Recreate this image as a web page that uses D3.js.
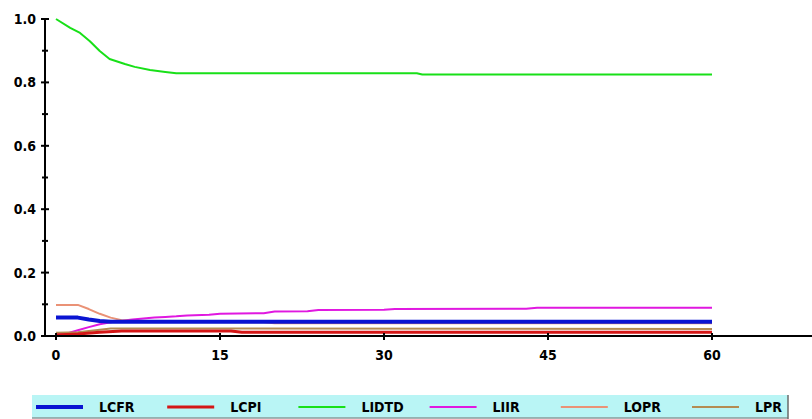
<!DOCTYPE html>
<html>
<head>
<meta charset="utf-8">
<script src="https://cdn.jsdelivr.net/npm/d3@7/dist/d3.min.js"></script>
<style>
  html, body { margin: 0; padding: 0; background: #fff; }
  svg { display: block; }
  text { font-family: "Liberation Sans Narrow", "DejaVu Sans Condensed", "Liberation Sans", Arial, sans-serif; font-weight: bold; }
</style>
</head>
<body>
<svg id="chart" width="812" height="419"></svg>
<script>
// Series: [month, share]
const lcfr  = [[0,0.058],[2,0.058],[3,0.052],[4,0.047],[5,0.045],[60,0.045]];
const lcpi  = [[0,0.003],[2,0.006],[4,0.012],[6,0.016],[16,0.016],[17,0.012],[60,0.012]];
const lidtd = [[0,1.0],[1.3,0.972],[2.2,0.956],[3.1,0.93],[4,0.899],[4.9,0.874],[6.3,0.858],
               [7.2,0.849],[8.6,0.839],[10,0.833],[11,0.829],[33,0.829],[33.5,0.825],[60,0.825]];
const liir  = [[0,0.005],[1,0.008],[2,0.018],[3,0.028],[4,0.037],[5,0.043],[6,0.048],[7,0.052],
               [8,0.055],[9,0.058],[10,0.06],[11,0.062],[12,0.065],[14,0.067],[15,0.07],[19,0.072],
               [20,0.077],[23,0.078],[24,0.082],[30,0.083],[31,0.085],[43,0.086],[44,0.089],[60,0.089]];
const lopr  = [[0,0.098],[2,0.098],[3,0.085],[4,0.07],[5,0.058],[6,0.05],[8,0.045],[19,0.043],[20,0.04],[60,0.04]];
const lpr   = [[0,0.01],[2,0.012],[4,0.02],[5,0.024],[60,0.022]];

const seriesNames  = ["LCFR", "LCPI", "LIDTD", "LIIR", "LOPR", "LPR"];
const seriesData   = [lcfr, lcpi, lidtd, liir, lopr, lpr];
const seriesColors = ["#0a14d2", "#d41616", "#18e018", "#e018e0", "#ea9276", "#b48c52"];
const seriesWidths = [4, 3, 2, 2, 2, 2];
const drawOrder    = [2, 3, 5, 1, 4, 0];

const xTicks = [0, 15, 30, 45, 60];
const yMajor = [0, 0.2, 0.4, 0.6, 0.8, 1.0];
const yMinor = [0.1, 0.3, 0.5, 0.7, 0.9];

const svg = d3.select("#chart");
const x = d3.scaleLinear().domain([0, 60]).range([56, 712]);
const y = d3.scaleLinear().domain([0, 1]).range([336, 19]);
const axisX0 = 45;

const line = d3.line().x(d => x(d[0])).y(d => y(d[1]));

// lines
drawOrder.forEach(i => {
  svg.append("path")
    .datum(seriesData[i])
    .attr("fill", "none")
    .attr("stroke", seriesColors[i])
    .attr("stroke-width", seriesWidths[i])
    .attr("stroke-linejoin", "round")
    .attr("d", line);
});

// y axis
const ya = svg.append("g");
ya.append("line").attr("x1", axisX0).attr("x2", axisX0).attr("y1", y(1)).attr("y2", y(0))
  .attr("stroke", "#000").attr("stroke-width", 2);
yMajor.forEach(v => {
  ya.append("line").attr("x1", axisX0 - 4).attr("x2", axisX0 + 4).attr("y1", y(v)).attr("y2", y(v))
    .attr("stroke", "#000").attr("stroke-width", 2);
  ya.append("text").attr("x", 36).attr("y", y(v)).attr("dy", "0.36em")
    .attr("text-anchor", "end").attr("font-size", 14).text(d3.format(".1f")(v));
});
yMinor.forEach(v => {
  ya.append("line").attr("x1", axisX0 - 3).attr("x2", axisX0 + 3).attr("y1", y(v)).attr("y2", y(v))
    .attr("stroke", "#000").attr("stroke-width", 2);
});

// x axis
const xa = svg.append("g");
xa.append("line").attr("x1", axisX0).attr("x2", 812).attr("y1", y(0)).attr("y2", y(0))
  .attr("stroke", "#000").attr("stroke-width", 2);
xTicks.forEach(t => {
  xa.append("line").attr("x1", x(t)).attr("x2", x(t)).attr("y1", y(0) - 3).attr("y2", y(0) + 4)
    .attr("stroke", "#000").attr("stroke-width", 2);
  xa.append("text").attr("x", x(t)).attr("y", 360).attr("text-anchor", "middle")
    .attr("font-size", 14).text(t);
});

// legend
const lg = svg.append("g");
lg.append("rect").attr("x", 32).attr("y", 395).attr("width", 756).attr("height", 23)
  .attr("fill", "#b9f5f5");
lg.append("line").attr("x1", 32).attr("x2", 788).attr("y1", 418).attr("y2", 418)
  .attr("stroke", "#8a9a9a").attr("stroke-width", 1.5);
lg.append("line").attr("x1", 788).attr("x2", 788).attr("y1", 395).attr("y2", 419)
  .attr("stroke", "#6a6a6a").attr("stroke-width", 1.5);
seriesNames.forEach((name, i) => {
  const x0 = 36 + i * 131.2;
  lg.append("line").attr("x1", x0).attr("x2", x0 + 47).attr("y1", 407).attr("y2", 407)
    .attr("stroke", seriesColors[i]).attr("stroke-width", seriesWidths[i]);
  lg.append("text").attr("x", x0 + 63).attr("y", 407).attr("dy", "0.36em")
    .attr("font-size", 14).text(name);
});
</script>
</body>
</html>
